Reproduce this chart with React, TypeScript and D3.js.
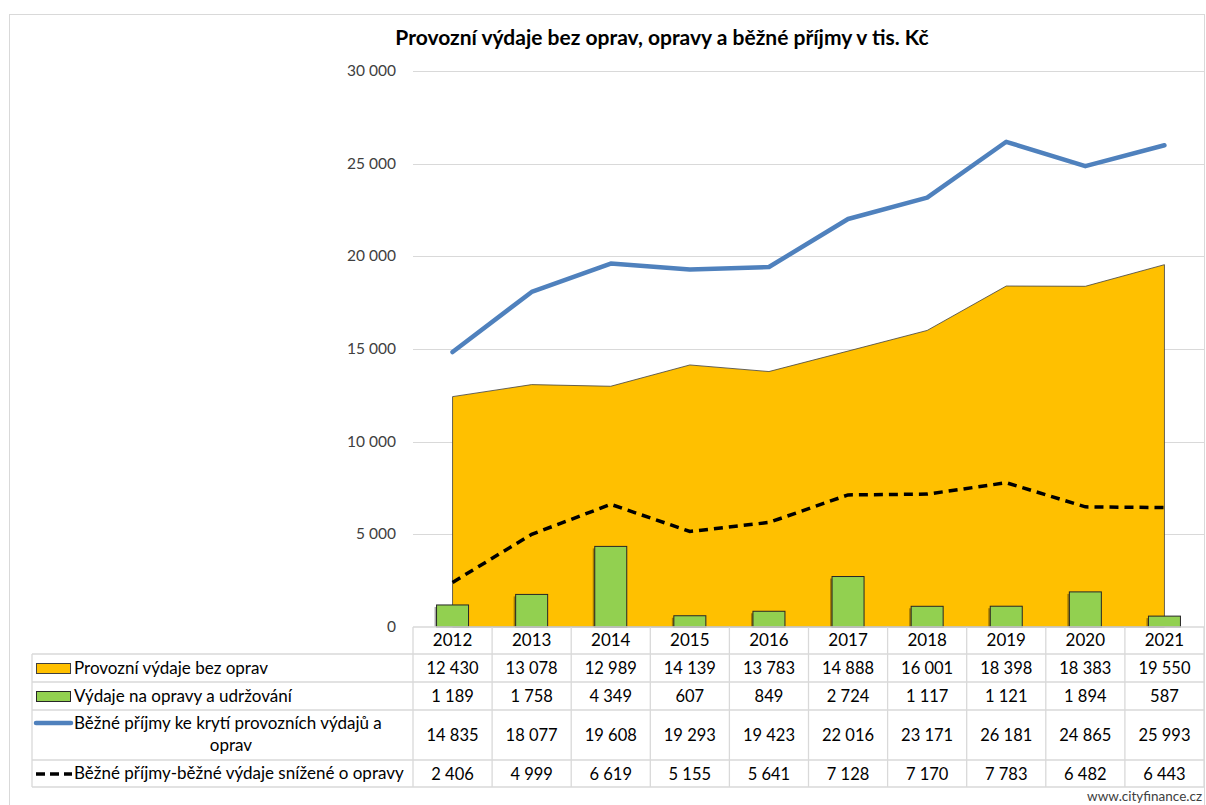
import React, { useEffect, useRef } from 'react'
import * as d3 from 'd3'

// data
const years = ['2012', '2013', '2014', '2015', '2016', '2017', '2018', '2019', '2020', '2021']
const provozni = [12430, 13078, 12989, 14139, 13783, 14888, 16001, 18398, 18383, 19550]
const opravy = [1189, 1758, 4349, 607, 849, 2724, 1117, 1121, 1894, 587]
const prijmy = [14835, 18077, 19608, 19293, 19423, 22016, 23171, 26181, 24865, 25993]
const rozdil = [2406, 4999, 6619, 5155, 5641, 7128, 7170, 7783, 6482, 6443]
const yTicks = [0, 5000, 10000, 15000, 20000, 25000, 30000]

const seriesNames = [
  'Provozní výdaje bez oprav',
  'Výdaje na opravy a udržování',
  'Běžné příjmy ke krytí provozních výdajů a',
  'Běžné příjmy-běžné výdaje snížené o opravy',
]

const FONT = 'Lato, "Open Sans", sans-serif'
const fmt = (v: number) => d3.format(',')(v).replace(/,/g, ' ')

export default function App() {
  const ref = useRef<SVGSVGElement>(null)

  useEffect(() => {
    const width = 1206, height = 805
    const left = 413, right = 1204, top = 71, bottom = 627
    const svg = d3.select(ref.current)
    svg.selectAll('*').remove()
    svg.attr('width', width).attr('height', height)

    const x = d3.scaleBand<string>().domain(years).range([left, right])
    const cx = (i: number) => x(years[i])! + x.bandwidth() / 2
    const y = d3.scaleLinear().domain([0, 30000]).range([bottom, top])

    // outer frame
    svg.append('rect').attr('x', 9.5).attr('y', 14.5).attr('width', 1195).attr('height', 800)
      .attr('fill', 'white').attr('stroke', '#d9d9d9')

    svg.append('text').attr('x', 662).attr('y', 45).attr('text-anchor', 'middle')
      .attr('font-family', FONT).attr('font-weight', 'bold').attr('font-size', 21)
      .attr('fill', '#000').text('Provozní výdaje bez oprav, opravy a běžné příjmy v tis. Kč')

    // gridlines + y labels
    const g = svg.append('g')
    g.selectAll('line.grid').data(yTicks.slice(1)).join('line')
      .attr('x1', left).attr('x2', right)
      .attr('y1', d => Math.round(y(d)) + 0.5).attr('y2', d => Math.round(y(d)) + 0.5)
      .attr('stroke', '#d9d9d9')
    g.selectAll('text.yl').data(yTicks).join('text')
      .attr('x', 396).attr('y', d => y(d) + 5).attr('text-anchor', 'end')
      .attr('font-family', FONT).attr('font-size', 15.5).attr('fill', '#404040')
      .text(d => fmt(d))

    // area
    const area = d3.area<number>().x((_, i) => cx(i)).y0(y(0)).y1(d => y(d))
    svg.append('path').datum(provozni).attr('d', area)
      .attr('fill', '#FFC000').attr('stroke', '#404040').attr('stroke-width', 0.8)

    // bars
    const bw = 32
    svg.selectAll('rect.shadow').data(opravy).join('rect')
      .attr('x', (_, i) => cx(i) - bw / 2 - 2).attr('y', d => y(d) + 2)
      .attr('width', bw).attr('height', d => y(0) - y(d) - 2)
      .attr('fill', 'rgba(0,0,0,0.35)')
    svg.selectAll('rect.bar').data(opravy).join('rect')
      .attr('x', (_, i) => cx(i) - bw / 2).attr('y', d => y(d))
      .attr('width', bw).attr('height', d => y(0) - y(d))
      .attr('fill', '#92D050').attr('stroke', '#262626').attr('stroke-width', 1)

    // lines
    const line = d3.line<number>().x((_, i) => cx(i)).y(d => y(d))
    svg.append('path').datum(prijmy).attr('d', line).attr('fill', 'none')
      .attr('stroke', '#4F81BD').attr('stroke-width', 4.5).attr('stroke-linejoin', 'round').attr('stroke-linecap', 'round')
    svg.append('path').datum(rozdil).attr('d', line).attr('fill', 'none')
      .attr('stroke', '#000').attr('stroke-width', 3.5).attr('stroke-dasharray', '9,6')

    // data table
    const rows = [627, 654, 682, 710, 760, 787]
    const tableLeft = 32
    const t = svg.append('g').attr('stroke', '#d9d9d9').attr('stroke-width', 1.3)
    t.append('line').attr('x1', left).attr('x2', right).attr('y1', rows[0]).attr('y2', rows[0])
    rows.slice(1).forEach(r => t.append('line').attr('x1', tableLeft).attr('x2', right).attr('y1', r).attr('y2', r))
    years.forEach((yr) => t.append('line').attr('x1', x(yr)!).attr('x2', x(yr)!).attr('y1', rows[0]).attr('y2', rows[5]))
    t.append('line').attr('x1', right).attr('x2', right).attr('y1', rows[0]).attr('y2', rows[5])
    t.append('line').attr('x1', tableLeft).attr('x2', tableLeft).attr('y1', rows[1]).attr('y2', rows[5])

    const txt = (xx: number, yy: number, s: string, anchor = 'middle', size = 17) =>
      svg.append('text').attr('x', xx).attr('y', yy).attr('text-anchor', anchor)
        .attr('font-family', FONT).attr('font-size', size).attr('fill', '#000').text(s)

    years.forEach((yr, i) => txt(cx(i), 646, yr))
    const seriesVals = [provozni, opravy, prijmy, rozdil]
    seriesVals.forEach((vals, r) => {
      const mid = (rows[r + 1] + rows[r + 2]) / 2
      vals.forEach((v, i) => txt(cx(i), mid + 6, fmt(v), 'middle', 16.5))
    })

    // legend keys + labels
    svg.append('rect').attr('x', 36.5).attr('y', 663.5).attr('width', 34).attr('height', 10)
      .attr('fill', '#FFC000').attr('stroke', '#404040')
    svg.append('rect').attr('x', 36.5).attr('y', 691.5).attr('width', 34).attr('height', 10)
      .attr('fill', '#92D050').attr('stroke', '#262626')
    svg.append('line').attr('x1', 36).attr('x2', 71).attr('y1', 723).attr('y2', 723)
      .attr('stroke', '#4F81BD').attr('stroke-width', 4.5).attr('stroke-linecap', 'round')
    svg.append('line').attr('x1', 36).attr('x2', 72).attr('y1', 774).attr('y2', 774)
      .attr('stroke', '#000').attr('stroke-width', 3.5).attr('stroke-dasharray', '9,5')

    txt(74, 674, seriesNames[0], 'start')
    txt(74, 702, seriesNames[1], 'start')
    txt(74, 729, seriesNames[2], 'start')
    txt(231, 751, 'oprav')
    txt(74, 779, seriesNames[3], 'start')

    svg.append('text').attr('x', 1202).attr('y', 801).attr('text-anchor', 'end')
      .attr('font-family', FONT).attr('font-size', 13.5).attr('fill', '#404040').text('www.cityfinance.cz')
  }, [])

  return (
    <div style={{ position: 'absolute', left: 0, top: 0 }}>
      <svg ref={ref} style={{ display: 'block' }} />
    </div>
  )
}
